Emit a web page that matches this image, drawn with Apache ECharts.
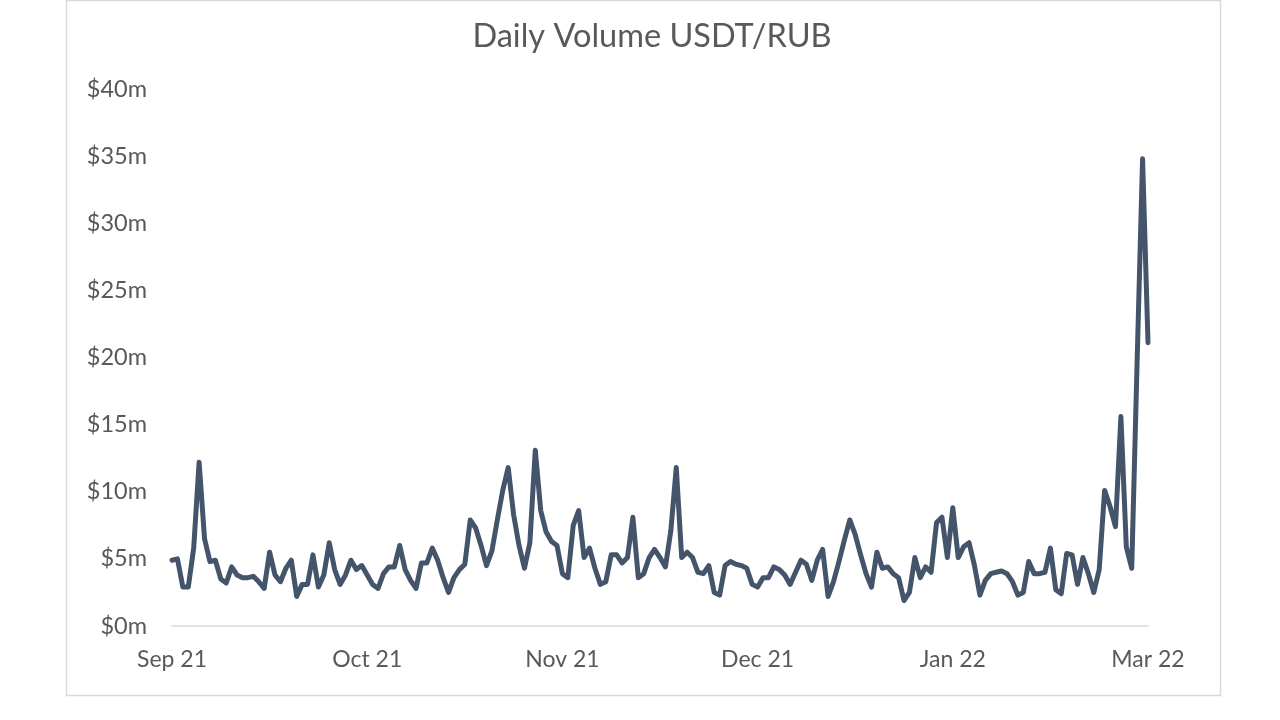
<!DOCTYPE html>
<html>
<head>
<meta charset="utf-8">
<script src="https://cdn.jsdelivr.net/npm/echarts@6/dist/echarts.min.js"></script>
<style>html,body{margin:0;padding:0;background:#fff}#c{width:1280px;height:720px}</style>
</head>
<body>
<div id="c"></div>
<script>
// Daily volume, $m
const volumes = [
 4.9,5.0,2.9,2.9,5.8,12.2,6.5,4.8,4.9,3.5,3.2,4.4,3.8,3.6,3.6,3.7,3.3,2.8,5.5,3.8,
 3.3,4.3,4.9,2.2,3.1,3.1,5.3,2.9,3.8,6.2,4.2,3.1,3.8,4.9,4.2,4.5,3.8,3.1,2.8,3.9,
 4.4,4.4,6.0,4.2,3.4,2.8,4.7,4.7,5.8,4.9,3.6,2.5,3.6,4.2,4.6,7.9,7.3,6.0,4.5,5.6,
 7.9,10.1,11.8,8.3,6.0,4.3,6.2,13.1,8.6,7.0,6.3,6.0,3.9,3.6,7.5,8.6,5.1,5.8,4.3,3.1,
 3.3,5.3,5.3,4.7,5.1,8.1,3.6,3.9,5.1,5.7,5.1,4.4,7.1,11.8,5.1,5.5,5.1,4.0,3.9,4.5,
 2.5,2.3,4.5,4.8,4.6,4.5,4.3,3.1,2.9,3.6,3.6,4.4,4.2,3.8,3.1,4.0,4.9,4.6,3.4,4.9,
 5.7,2.2,3.3,4.8,6.4,7.9,6.8,5.3,3.9,2.9,5.5,4.3,4.4,3.9,3.6,1.9,2.5,5.1,3.6,4.4,
 4.0,7.7,8.1,5.1,8.8,5.1,5.9,6.2,4.5,2.3,3.4,3.9,4.0,4.1,3.9,3.3,2.3,2.5,4.8,3.9,
 3.9,4.0,5.8,2.7,2.4,5.4,5.3,3.1,5.1,3.9,2.5,4.2,10.1,8.9,7.4,15.6,5.9,4.3,19.8,34.8,
 21.1
];
const days = volumes.map((_, i) => i);
const tickLabels = ['Sep 21', 'Oct 21', 'Nov 21', 'Dec 21', 'Jan 22', 'Mar 22'];
const labelStep = 36;
const yTicks = [0, 5, 10, 15, 20, 25, 30, 35, 40];

const chart = echarts.init(document.getElementById('c'), null, {renderer: 'canvas'});
const font = 'Lato, "Open Sans", "Liberation Sans", sans-serif';
chart.setOption({
  animation: false,
  backgroundColor: '#ffffff',
  graphic: [{
    type: 'rect', z: -10, silent: true,
    shape: {x: 66.5, y: 0.5, width: 1154, height: 695},
    style: {fill: '#ffffff', stroke: '#d9d9d9', lineWidth: 1.5}
  }],
  title: {
    text: 'Daily Volume USDT/RUB',
    left: 647, top: 15, textAlign: 'center',
    textStyle: {fontFamily: font, fontSize: 32.5, fontWeight: 'normal', color: '#595959'}
  },
  grid: {left: 172, right: 132, top: 89, bottom: 94},
  xAxis: {
    type: 'category',
    data: days,
    boundaryGap: false,
    axisLine: {show: true, lineStyle: {color: '#d9d9d9', width: 1.5}},
    axisTick: {show: false},
    splitLine: {show: false},
    axisLabel: {
      interval: labelStep - 1,
      margin: 22,
      fontFamily: font, fontSize: 23, color: '#595959',
      formatter: (v, idx) => tickLabels[Math.round(idx / labelStep)] || ''
    }
  },
  yAxis: {
    type: 'value',
    min: yTicks[0], max: yTicks[yTicks.length - 1], interval: 5,
    axisLine: {show: false},
    axisTick: {show: false},
    splitLine: {show: false},
    axisLabel: {
      margin: 25,
      fontFamily: font, fontSize: 23.5, color: '#595959',
      formatter: v => '$' + v + 'm'
    }
  },
  series: [{
    type: 'line',
    data: volumes,
    showSymbol: false,
    smooth: false,
    lineStyle: {color: '#44546a', width: 5, join: 'round', cap: 'round'}
  }]
});
</script>
</body>
</html>
